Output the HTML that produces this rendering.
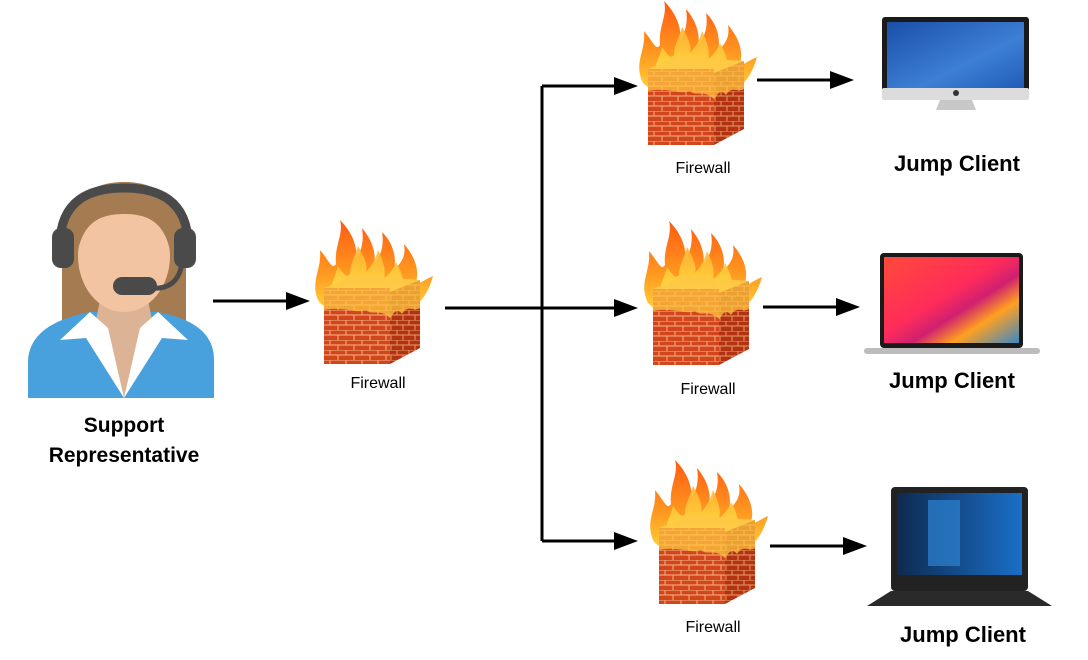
<!DOCTYPE html>
<html><head><meta charset="utf-8"><style>
html,body{margin:0;padding:0;background:#fff;width:1088px;height:660px;overflow:hidden}
svg{display:block}
text{font-family:"Liberation Sans",Arial,sans-serif}
</style></head><body>
<svg width="1088" height="660" viewBox="0 0 1088 660" xmlns="http://www.w3.org/2000/svg">
<defs>
<linearGradient id="fl" x1="0" y1="0" x2="0" y2="1"><stop offset="0" stop-color="#ff5a12"/><stop offset="0.6" stop-color="#ff9a20"/><stop offset="1" stop-color="#ffd23a"/></linearGradient>
<linearGradient id="fl2" x1="0" y1="0" x2="0" y2="1"><stop offset="0" stop-color="#ffb030"/><stop offset="1" stop-color="#ffe84a"/></linearGradient>
<pattern id="brick" width="16" height="10" patternUnits="userSpaceOnUse">
<rect width="16" height="10" fill="#d2461e"/>
<path d="M0 0H16M0 5H16M4 0V5M12 5V10" stroke="#f1a070" stroke-width="1.2"/>
</pattern>
<pattern id="brick2" width="12" height="10" patternUnits="userSpaceOnUse">
<rect width="12" height="10" fill="#b23212"/>
<path d="M0 0H12M0 5H12M3 0V5M9 5V10" stroke="#e08a5a" stroke-width="1.2"/>
</pattern>
<symbol id="fw" viewBox="0 0 125 145">
<path d="M8 80 C0 60 12 50 10 30 C20 42 22 50 26 44 C24 26 34 14 30 0 C44 14 48 30 46 40 C52 30 54 20 52 8 C64 22 66 36 64 44 C72 34 74 24 72 12 C86 26 86 42 84 50 C92 42 96 36 94 24 C108 40 110 56 104 66 C112 62 118 58 123 56 C118 74 110 84 100 90 L20 90 C14 86 10 84 8 80Z" fill="url(#fl)"/>
<path d="M22 80 C18 66 26 56 28 46 C34 54 36 58 40 54 C40 44 46 34 48 26 C54 36 58 46 56 52 C62 46 66 38 68 30 C74 42 76 52 74 58 C80 54 84 48 86 42 C94 56 96 68 90 80Z" fill="url(#fl2)" opacity="0.9"/>
<path d="M14 68 L44 56 L110 60 L80 72Z" fill="#ffd45a" opacity="0.8"/>
<rect x="14" y="68" width="66" height="76" fill="url(#brick)"/>
<path d="M80 72 L110 60 L110 128 L80 144Z" fill="url(#brick2)"/>
<path d="M14 68 L44 56 L110 60 L110 88 C104 92 98 84 92 94 C86 86 82 96 80 98 C70 88 62 96 56 90 C46 94 34 86 14 90Z" fill="#ffc640" opacity="0.75"/>
</symbol>
<marker id="ah" markerWidth="10" markerHeight="10" refX="9" refY="5" orient="auto" markerUnits="userSpaceOnUse"><path d="M0 0 L0 0 Z"/></marker>
</defs>

<!-- person -->
<path d="M62 250 C62 200 90 182 124 182 C158 182 186 200 186 250 L186 330 L62 330Z" fill="#a57c52"/>
<path d="M28 398 L28 360 C30 330 60 318 90 312 L158 312 C188 318 214 330 214 360 L214 398Z" fill="#48a0dc"/>
<path d="M100 300 L148 300 L152 320 L124 398 L96 320Z" fill="#dcb495"/>
<path d="M90 312 L108 328 L124 398 L86 338 L60 340Z" fill="#fff"/>
<path d="M158 312 L140 328 L124 398 L162 338 L188 340Z" fill="#fff"/>
<ellipse cx="124" cy="256" rx="46" ry="56" fill="#f2c4a2"/>
<path d="M78 250 C76 210 94 196 124 196 C154 196 172 210 170 250 C164 224 150 214 124 214 C98 214 84 224 78 250Z" fill="#a57c52"/>
<path d="M60 245 C60 200 90 188 124 188 C158 188 188 200 188 245" fill="none" stroke="#4a4a4a" stroke-width="9"/>
<rect x="52" y="228" width="22" height="40" rx="9" fill="#4a4a4a"/>
<rect x="174" y="228" width="22" height="40" rx="9" fill="#4a4a4a"/>
<path d="M182 262 C180 280 170 290 150 288" fill="none" stroke="#4a4a4a" stroke-width="5"/>
<rect x="113" y="277" width="44" height="18" rx="9" fill="#4a4a4a"/>
<text x="124" y="432" font-size="21" font-weight="bold" text-anchor="middle">Support</text>
<text x="124" y="462" font-size="21" font-weight="bold" text-anchor="middle">Representative</text>

<!-- connectors -->
<g stroke="#000" stroke-width="3" fill="none">
<path d="M213 301 H290"/>
<path d="M445 308 H620"/>
<path d="M542 86 V541"/>
<path d="M542 86 H620"/>
<path d="M542 541 H620"/>
<path d="M757 80 H836"/>
<path d="M763 307 H842"/>
<path d="M770 546 H849"/>
</g>
<g fill="#000">
<path d="M286 292 L310 301 L286 310Z"/>
<path d="M614 299 L638 308 L614 317Z"/>
<path d="M614 77 L638 86 L614 95Z"/>
<path d="M614 532 L638 541 L614 550Z"/>
<path d="M830 71 L854 80 L830 89Z"/>
<path d="M836 298 L860 307 L836 316Z"/>
<path d="M843 537 L867 546 L843 555Z"/>
</g>

<!-- firewalls -->
<use href="#fw" x="310" y="220" width="125" height="145"/>
<use href="#fw" x="634" y="1" width="125" height="145"/>
<use href="#fw" x="639" y="221" width="125" height="145"/>
<use href="#fw" x="645" y="460" width="125" height="145"/>
<g font-size="16" text-anchor="middle">
<text x="378" y="388">Firewall</text>
<text x="703" y="173">Firewall</text>
<text x="708" y="394">Firewall</text>
<text x="713" y="632">Firewall</text>
</g>

<!-- iMac -->
<defs>
<linearGradient id="imac" x1="0" y1="0" x2="1" y2="1"><stop offset="0" stop-color="#1a4fa8"/><stop offset="0.6" stop-color="#3e7fd6"/><stop offset="1" stop-color="#1f5bb5"/></linearGradient>
<linearGradient id="mb" x1="0" y1="0" x2="1" y2="1"><stop offset="0" stop-color="#ff4a3a"/><stop offset="0.45" stop-color="#ff2c5a"/><stop offset="0.6" stop-color="#d02070"/><stop offset="0.75" stop-color="#ffa020"/><stop offset="1" stop-color="#3a88c8"/></linearGradient>
<linearGradient id="win" x1="0" y1="0" x2="1" y2="0"><stop offset="0" stop-color="#0e2a50"/><stop offset="1" stop-color="#1a6fc8"/></linearGradient>
</defs>
<rect x="882" y="17" width="147" height="80" rx="3" fill="#1a1a1a"/>
<rect x="887" y="22" width="137" height="68" fill="url(#imac)"/>
<rect x="882" y="88" width="147" height="12" rx="2" fill="#dcdcdc"/>
<circle cx="956" cy="93" r="3" fill="#333"/>
<path d="M940 100 H972 L976 110 H936Z" fill="#c8c8c8"/>
<text x="957" y="171" font-size="22" font-weight="bold" text-anchor="middle">Jump Client</text>

<!-- MacBook -->
<rect x="880" y="253" width="143" height="95" rx="4" fill="#1a1a1a"/>
<rect x="884" y="257" width="135" height="86" fill="url(#mb)"/>
<rect x="864" y="348" width="176" height="6" rx="3" fill="#bcbcbc"/>
<text x="952" y="388" font-size="22" font-weight="bold" text-anchor="middle">Jump Client</text>

<!-- HP -->
<rect x="891" y="487" width="137" height="104" rx="4" fill="#222"/>
<rect x="897" y="493" width="125" height="82" fill="url(#win)"/>
<rect x="928" y="500" width="32" height="66" fill="#2a7ac8" opacity="0.8"/>
<path d="M891 591 H1028 L1052 606 H867Z" fill="#2a2a2a"/>
<text x="963" y="642" font-size="22" font-weight="bold" text-anchor="middle">Jump Client</text>
</svg>
</body></html>
